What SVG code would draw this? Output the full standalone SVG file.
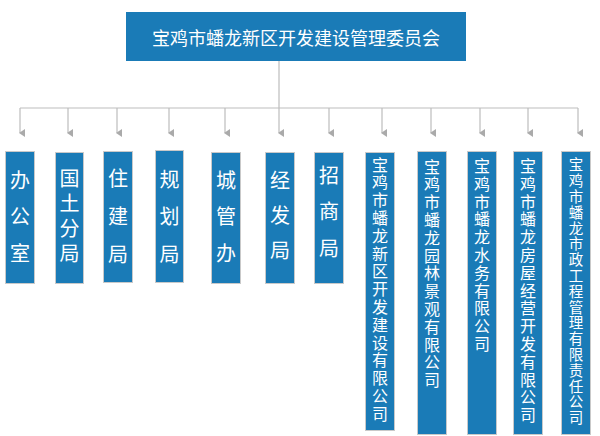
<svg xmlns="http://www.w3.org/2000/svg" width="600" height="436" viewBox="0 0 600 436">
<defs>
<style>
.box{fill:#1a7bb7;stroke:#c9c9c9;stroke-width:1}
.t{fill:#ffffff;font-family:"Noto Sans CJK SC","Noto Sans",sans-serif;text-anchor:middle;dominant-baseline:central}
.v{fill:#ffffff;font-family:"Noto Sans CJK SC","Noto Sans",sans-serif;writing-mode:vertical-rl;text-anchor:start}
.s{font-size:20px}
.c{font-size:16px;letter-spacing:1.8px}
.c2{font-size:14.5px;letter-spacing:1.3px}
.ln{stroke:#bdbdbd;stroke-width:1.2;fill:none}
</style>
<marker id="ah" markerWidth="8" markerHeight="6" refX="4" refY="5" orient="auto-start-reverse" markerUnits="userSpaceOnUse" viewBox="0 0 8 6">
<path d="M0,0 L8,0 L4,6 Z" fill="#aaaaaa"/>
</marker>
</defs>
<rect width="600" height="436" fill="#ffffff"/>
<g id="connectors">
<path class="ln" d="M279,61 V108"/>
<path class="ln" d="M20,108 H578"/>
<path class="ln" d="M20,108 V133" marker-end="url(#ah)"/>
<path class="ln" d="M68,108 V133" marker-end="url(#ah)"/>
<path class="ln" d="M117,108 V133" marker-end="url(#ah)"/>
<path class="ln" d="M169,108 V133" marker-end="url(#ah)"/>
<path class="ln" d="M225,108 V133" marker-end="url(#ah)"/>
<path class="ln" d="M279,108 V133" marker-end="url(#ah)"/>
<path class="ln" d="M329,108 V133" marker-end="url(#ah)"/>
<path class="ln" d="M382,108 V133" marker-end="url(#ah)"/>
<path class="ln" d="M431,108 V133" marker-end="url(#ah)"/>
<path class="ln" d="M480,108 V133" marker-end="url(#ah)"/>
<path class="ln" d="M528,108 V133" marker-end="url(#ah)"/>
<path class="ln" d="M578,108 V133" marker-end="url(#ah)"/>
</g>
<g id="root">
<rect x="126" y="12" width="340" height="49" fill="#1a7bb7"/>
<text class="t" x="296" y="37" style="font-size:18px">宝鸡市蟠龙新区开发建设管理委员会</text>
</g>
<g id="n1">
<rect class="box" x="5.5" y="151.5" width="29" height="132"/>
<text class="v s" x="20" y="170" style="letter-spacing:16.5px">办公室</text>
</g>
<g id="n2">
<rect class="box" x="55.5" y="152.5" width="28" height="131"/>
<text class="v s" x="69.5" y="168" style="letter-spacing:5px">国土分局</text>
</g>
<g id="n3">
<rect class="box" x="103.5" y="151.5" width="29" height="131"/>
<text class="v s" x="118" y="168" style="letter-spacing:18px">住建局</text>
</g>
<g id="n4">
<rect class="box" x="155.5" y="150.5" width="28" height="132"/>
<text class="v s" x="169.5" y="169" style="letter-spacing:17.5px">规划局</text>
</g>
<g id="n5">
<rect class="box" x="211.5" y="152.5" width="29" height="131"/>
<text class="v s" x="226" y="170" style="letter-spacing:16.5px">城管办</text>
</g>
<g id="n6">
<rect class="box" x="265.5" y="152.5" width="29" height="131"/>
<text class="v s" x="280" y="170" style="letter-spacing:15px">经发局</text>
</g>
<g id="n7">
<rect class="box" x="314.5" y="152.5" width="29" height="131"/>
<text class="v s" x="329" y="165" style="letter-spacing:16.5px">招商局</text>
</g>
<g id="n8">
<rect class="box" x="365.5" y="152.5" width="29" height="278"/>
<text class="v c" x="380" y="156.5">宝鸡市蟠龙新区开发建设有限公司</text>
</g>
<g id="n9">
<rect class="box" x="417.5" y="151.5" width="29" height="283"/>
<text class="v c" x="432" y="158.5">宝鸡市蟠龙园林景观有限公司</text>
</g>
<g id="n10">
<rect class="box" x="467.5" y="151.5" width="29" height="283"/>
<text class="v c" x="482" y="158">宝鸡市蟠龙水务有限公司</text>
</g>
<g id="n11">
<rect class="box" x="513.5" y="151.5" width="29" height="283"/>
<text class="v c" x="528" y="158">宝鸡市蟠龙房屋经营开发有限公司</text>
</g>
<g id="n12">
<rect class="box" x="561.5" y="151.5" width="29" height="283"/>
<text class="v c2" x="576" y="157.7">宝鸡市蟠龙市政工程管理有限责任公司</text>
</g>
</svg>
